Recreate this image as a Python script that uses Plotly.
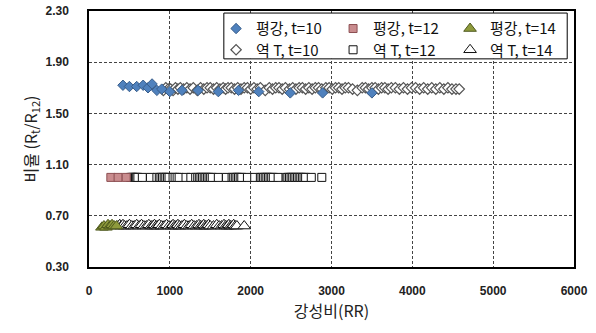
import plotly.graph_objects as go

# ---- data ----
x_p10 = [420, 500, 590, 670, 730, 780, 840, 900, 1000, 1150, 1350, 1600, 1850, 2100, 2490, 2890, 3500]
y_p10 = [1.72, 1.71, 1.71, 1.72, 1.70, 1.73, 1.68, 1.69, 1.67, 1.68, 1.68, 1.67, 1.68, 1.67, 1.66, 1.66, 1.66]

x_r10 = [920, 950, 980, 1010, 1040, 1070, 1100, 1130, 1170, 1210, 1250, 1290, 1340, 1380, 1420, 1460,
         1500, 1540, 1580, 1620, 1660, 1690, 1720, 1760, 1800, 1840, 1880, 1920, 1960, 2000, 2040,
         2080, 2120, 2180, 2230, 2270, 2310, 2350, 2390, 2430, 2480, 2520, 2560, 2600, 2640, 2680,
         2720, 2760, 2800, 2840, 2880, 2930, 2970, 3010, 3050, 3090, 3130, 3170, 3210, 3260, 3320,
         3380, 3420, 3460, 3500, 3540, 3580, 3620, 3660, 3700, 3740, 3790, 3840, 3890, 3940, 3990,
         4040, 4090, 4140, 4190, 4240, 4290, 4340, 4390, 4440, 4490, 4540, 4580]
y_r10 = [1.68, 1.70, 1.69, 1.69, 1.68, 1.70, 1.69, 1.70, 1.69, 1.70, 1.69, 1.70, 1.68, 1.70, 1.69, 1.70,
         1.70, 1.69, 1.70, 1.69, 1.70, 1.69, 1.70, 1.70, 1.69, 1.70, 1.69, 1.70, 1.70, 1.69, 1.70,
         1.69, 1.70, 1.68, 1.70, 1.69, 1.70, 1.70, 1.69, 1.70, 1.69, 1.70, 1.69, 1.70, 1.70, 1.69,
         1.70, 1.69, 1.70, 1.70, 1.69, 1.70, 1.70, 1.69, 1.70, 1.70, 1.69, 1.70, 1.70, 1.69, 1.68,
         1.70, 1.70, 1.69, 1.70, 1.70, 1.69, 1.70, 1.70, 1.69, 1.70, 1.70, 1.69, 1.70, 1.69, 1.70,
         1.70, 1.69, 1.70, 1.69, 1.70, 1.69, 1.70, 1.69, 1.70, 1.69, 1.69, 1.69]

x_p12 = [270, 360, 460]
y_p12 = [1.00, 1.00, 1.00]

x_r12 = [515, 530, 545, 560, 575, 590, 605, 660, 760, 840, 870, 890, 910, 930, 950, 970, 990, 1040,
         1065, 1090, 1115, 1200, 1260, 1320, 1345, 1365, 1385, 1405, 1425, 1445, 1465, 1485, 1505,
         1525, 1600, 1700, 1770, 1790, 1810, 1830, 1850, 1870, 1890, 1960, 2050, 2120, 2140, 2160,
         2180, 2200, 2220, 2240, 2260, 2280, 2340, 2440, 2460, 2480, 2500, 2520, 2540, 2560, 2580,
         2600, 2620, 2640, 2660, 2680, 2750, 2880]
y_r12 = [1.00] * 70

x_p14 = [160, 185, 210, 235, 260, 285, 310, 340]
y_p14 = [0.61, 0.62, 0.61, 0.63, 0.62, 0.63, 0.62, 0.62]

x_r14 = [360, 380, 400, 420, 440, 470, 500, 530, 560, 590, 620, 650, 680, 710, 740, 770, 790, 810,
         830, 850, 870, 900, 930, 960, 990, 1020, 1040, 1060, 1080, 1100, 1120, 1150, 1180, 1210,
         1240, 1270, 1300, 1330, 1360, 1380, 1400, 1420, 1440, 1460, 1480, 1500, 1540, 1580, 1610,
         1640, 1670, 1690, 1710, 1730, 1750, 1770, 1790, 1810, 1830, 1920]
y_r14 = [0.62, 0.63, 0.62, 0.63, 0.62, 0.62, 0.63, 0.62, 0.62, 0.63, 0.62, 0.63, 0.62, 0.62, 0.63,
         0.62, 0.62, 0.63, 0.62, 0.62, 0.63, 0.62, 0.62, 0.63, 0.62, 0.62, 0.63, 0.62, 0.62, 0.63,
         0.62, 0.62, 0.63, 0.62, 0.62, 0.63, 0.62, 0.62, 0.63, 0.62, 0.62, 0.63, 0.62, 0.62, 0.63,
         0.62, 0.62, 0.63, 0.62, 0.62, 0.63, 0.62, 0.62, 0.63, 0.62, 0.62, 0.63, 0.62, 0.62, 0.62]

names = ["평강, t=10", "평강, t=12", "평강, t=14", "역 T, t=10", "역 T, t=12", "역 T, t=14"]
x_ticks = [0, 1000, 2000, 3000, 4000, 5000, 6000]
y_ticks = [0.30, 0.70, 1.10, 1.50, 1.90, 2.30]

KFONT = "Noto Sans CJK KR"

fig = go.Figure()

fig.add_trace(go.Scatter(x=x_r10, y=y_r10, mode="markers", name=names[3], legend="legend2",
                         marker=dict(symbol="diamond", size=8, color="white",
                                     line=dict(color="#555555", width=1.2))))
fig.add_trace(go.Scatter(x=x_r12, y=y_r12, mode="markers", name=names[4], legend="legend2",
                         marker=dict(symbol="square", size=8, color="white",
                                     line=dict(color="#111111", width=1))))
fig.add_trace(go.Scatter(x=x_r14, y=y_r14, mode="markers", name=names[5], legend="legend2",
                         marker=dict(symbol="triangle-up", size=11, color="white",
                                     line=dict(color="#111111", width=1))))
fig.add_trace(go.Scatter(x=x_p10, y=y_p10, mode="markers", name=names[0], legend="legend",
                         marker=dict(symbol="diamond", size=8, color="#4F81BD",
                                     line=dict(color="#385D8A", width=1))))
fig.add_trace(go.Scatter(x=x_p12, y=y_p12, mode="markers", name=names[1], legend="legend",
                         marker=dict(symbol="square", size=8, color="#C98C8E",
                                     line=dict(color="#8C4F52", width=1))))
fig.add_trace(go.Scatter(x=x_p14, y=y_p14, mode="markers", name=names[2], legend="legend",
                         marker=dict(symbol="triangle-up", size=11, color="#8E9A3C",
                                     line=dict(color="#4F5A1E", width=1))))

leg_common = dict(orientation="h", xanchor="left", yanchor="top", bgcolor="rgba(0,0,0,0)",
                  borderwidth=0, itemwidth=30, entrywidth=72, entrywidthmode="pixels",
                  font=dict(family=KFONT, size=15, color="#111111"), traceorder="normal")

grid_col = "#444444"

fig.update_layout(
    width=596, height=333,
    margin=dict(l=89, r=22, t=11, b=66),
    paper_bgcolor="white", plot_bgcolor="white",
    showlegend=True,
    legend=dict(x=0.262, y=0.995, **leg_common),
    legend2=dict(x=0.262, y=0.912, **leg_common),
    xaxis=dict(range=[0, 6000], tickvals=x_ticks, ticktext=[str(v) for v in x_ticks],
               showgrid=True, gridcolor=grid_col, griddash="3px,2px", gridwidth=1,
               showline=True, linecolor="black", linewidth=1.5, mirror=True,
               zeroline=False, ticks="", ticklabelstandoff=12, automargin=False,
               tickfont=dict(family="Liberation Sans", size=12, color="#222222", weight="bold"),
               title=dict(text="강성비(RR)", font=dict(family=KFONT, size=16, color="#222222"),
                          standoff=9)),
    yaxis=dict(range=[0.30, 2.30], tickvals=y_ticks, ticktext=[f"{v:.2f}" for v in y_ticks],
               showgrid=True, gridcolor=grid_col, griddash="3px,2px", gridwidth=1,
               showline=True, linecolor="black", linewidth=1.5, mirror=True,
               zeroline=False, ticks="", ticklabelstandoff=16, automargin=False,
               tickfont=dict(family="Liberation Sans", size=12, color="#222222", weight="bold"),
               title=dict(text="비율 (R<sub>t</sub>/R<sub>12</sub>)",
                          font=dict(family=KFONT, size=16, color="#222222"), standoff=4)),
    shapes=[dict(type="rect", xref="paper", yref="paper", x0=0.278, x1=0.986, y0=0.813, y1=0.992,
                 line=dict(color="black", width=1), fillcolor="white", layer="above")],
)

fig.write_html("out.html")
